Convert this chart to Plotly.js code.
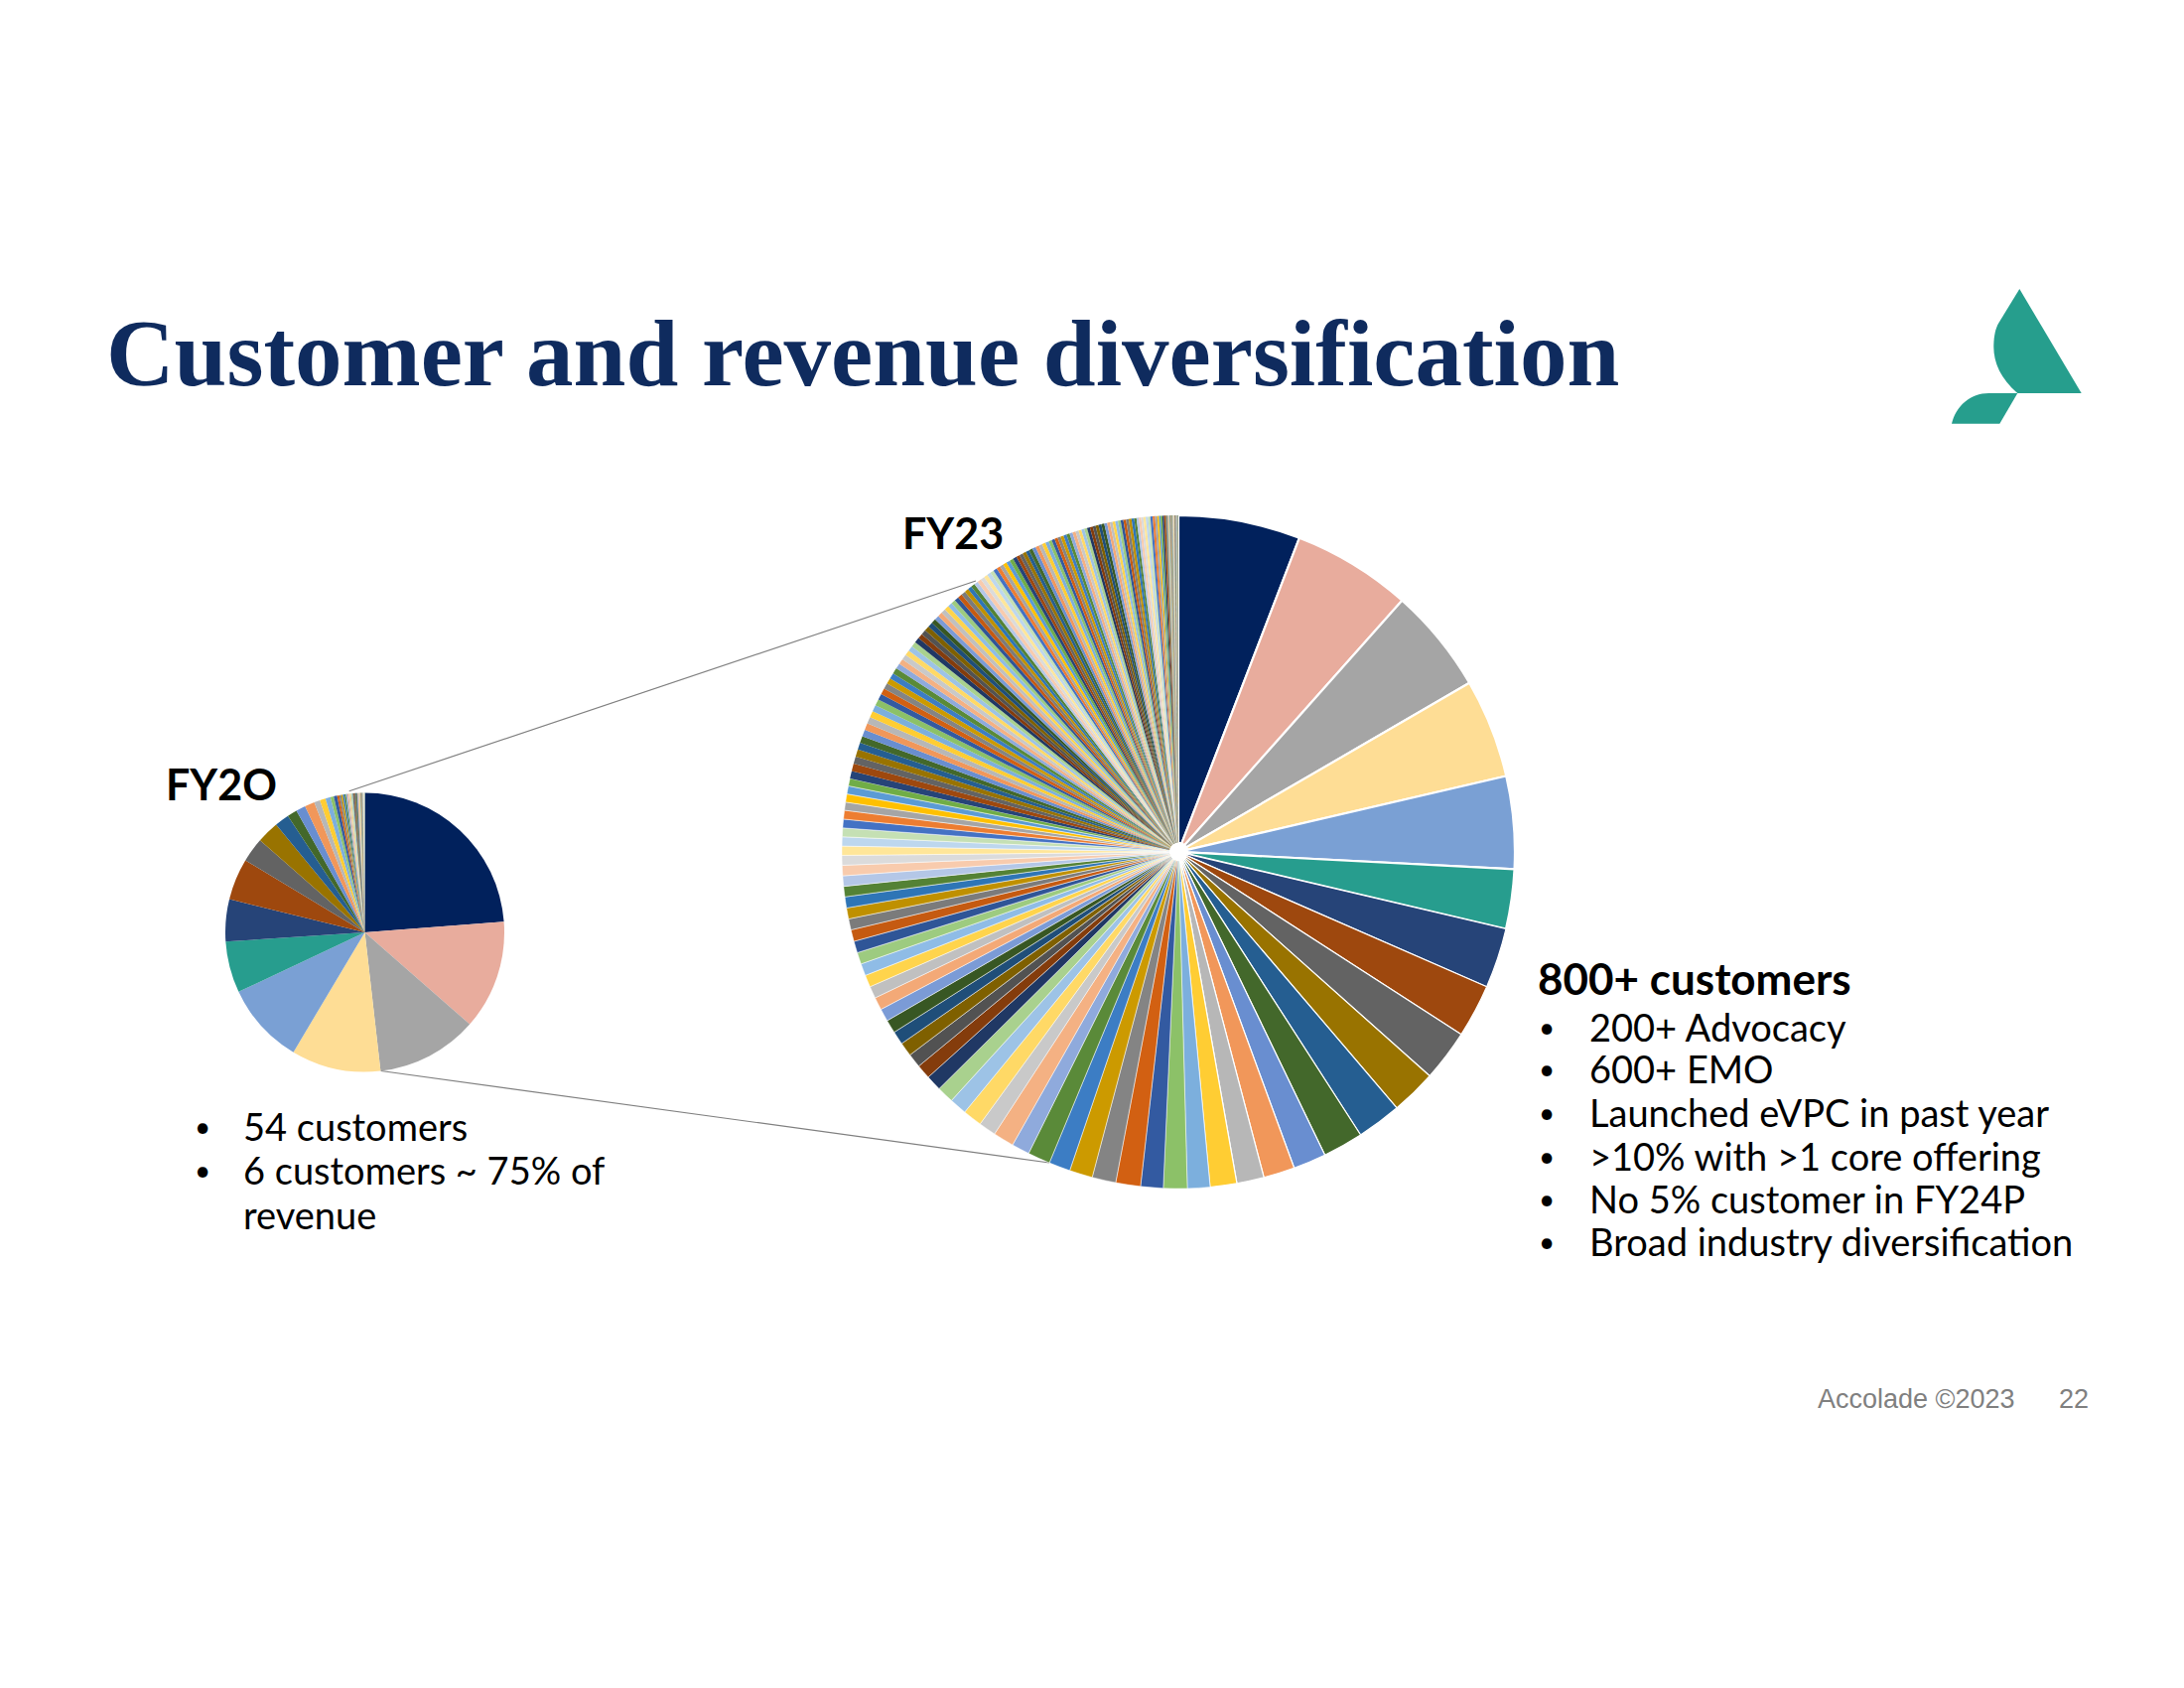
<!DOCTYPE html>
<html>
<head>
<meta charset="utf-8">
<script src="https://cdn.plot.ly/plotly-3.0.1.min.js"></script>
<style>
html,body{margin:0;padding:0;background:#ffffff;}
#chart{width:2200px;height:1700px;}
</style>
</head>
<body>
<div id="chart"></div>
<script>
// ---------------- DATA ----------------
const titleText = "Customer and revenue diversification";

// FY20 revenue share by customer (%), 54 customers, largest first
const fy20Values = [23.78, 12.67, 11.75, 10.36, 9.44, 5.94, 4.89, 4.81, 2.83, 2.56,
  1.67, 1.14, 1.11, 1.14, 0.69, 0.67, 0.58, 0.39, 0.39, 0.25,
  0.22, 0.19, 0.19, 0.17, 0.17, 0.14, 0.14, 0.14, 0.11, 0.11,
  0.08, 0.08, 0.08, 0.08, 0.08, 0.08, 0.08, 0.08, 0.08, 0.08,
  0.04, 0.04, 0.04, 0.04, 0.04, 0.04, 0.04, 0.04, 0.04, 0.04, 0.04, 0.04, 0.04, 0.04];

// FY23 revenue share by customer (%), read slice by slice
const fy23Top = [5.86, 5.72, 5.06, 4.75, 4.44, 2.86, 2.89, 2.56, 2.47, 2.17,
  2.14, 1.94, 1.58, 1.50, 1.31, 1.28, 1.08, 1.14, 1.08, 1.19,
  1.14, 1.11, 1.03, 1.08, 0.86, 1.00, 0.83, 0.92, 0.83, 0.81];
const fy23Mid = [0.75, 0.69, 0.67, 0.67, 0.64, 0.64, 0.61, 0.61, 0.58, 0.58,
  0.58, 0.56, 0.56, 0.56, 0.53, 0.53, 0.53, 0.50, 0.50, 0.50, 0.47,
  0.44, 0.44, 0.42, 0.42, 0.42, 0.39, 0.39, 0.39, 0.36,
  0.36, 0.36, 0.35, 0.35, 0.33, 0.33, 0.33, 0.32, 0.32, 0.31,
  0.31, 0.31, 0.29, 0.29, 0.28, 0.28, 0.28, 0.28, 0.26, 0.26,
  0.26, 0.25, 0.25, 0.25, 0.25, 0.24, 0.24, 0.24, 0.24, 0.22,
  0.22, 0.22, 0.22, 0.22, 0.21, 0.21, 0.21, 0.21, 0.21, 0.19,
  0.19, 0.19, 0.19, 0.19, 0.19];
const fy23Small = [0.18, 0.18, 0.18, 0.18, 0.18, 0.18, 0.18, 0.18, 0.18, 0.18,
  0.17, 0.17, 0.17, 0.17, 0.17, 0.17, 0.17, 0.17, 0.17, 0.17,
  0.15, 0.15, 0.15, 0.15, 0.15, 0.15, 0.15, 0.15, 0.15, 0.15,
  0.14, 0.14, 0.14, 0.14, 0.14, 0.14, 0.14, 0.14, 0.14, 0.14,
  0.13, 0.13, 0.13, 0.13, 0.13, 0.13, 0.13, 0.13, 0.13, 0.13,
  0.11, 0.11, 0.11, 0.11, 0.11, 0.11, 0.11, 0.11, 0.11, 0.11,
  0.08, 0.08, 0.08, 0.08, 0.08];
const fy23Tail = [0.02, 0.02, 0.02, 0.02, 0.02, 0.02, 0.02, 0.02, 0.02, 0.02,
  0.02, 0.02, 0.02, 0.02, 0.02, 0.02, 0.02, 0.02, 0.02, 0.02,
  0.01, 0.01, 0.01, 0.01, 0.01, 0.01, 0.01, 0.01, 0.01, 0.01,
  0.01, 0.01, 0.01, 0.01, 0.01, 0.01, 0.01, 0.01, 0.01, 0.01];

const fy20Label = "FY2O";
const fy23Label = "FY23";
const fy20Bullets = ["54 customers", "6 customers ~ 75% of", "revenue"];
const fy23Header = "800+ customers";
const fy23Bullets = ["200+ Advocacy", "600+ EMO", "Launched eVPC in past year",
  ">10% with >1 core offering", "No 5% customer in FY24P", "Broad industry diversification"];
const footerText = "Accolade ©2023";
const pageNumber = "22";

// ---------------- STYLE ----------------
const W = 2200, H = 1700;
const leadColors = ['#01215C', '#E8AC9D', '#A5A5A5', '#FEDD95', '#7AA0D4', '#279D8E'];
const cycleColors = [
  '#4472C4','#ED7D31','#A5A5A5','#FFC000','#5B9BD5','#70AD47',
  '#264478','#9E480E','#636363','#997300','#255E91','#43682B',
  '#698ED0','#F1975A','#B7B7B7','#FFCD33','#7CAFDD','#8CC168',
  '#335AA1','#D26012','#848484','#CC9A00','#3C7DC4','#5A8A39',
  '#8FAADC','#F4B183','#C9C9C9','#FFD966','#9DC3E6','#A9D18E',
  '#203864','#843C0C','#525252','#7F6000','#1F4E79','#385723',
  '#7B9BD6','#F3A977','#C0C0C0','#FFD44C','#8FBCE6','#9DCB80',
  '#2F5597','#C55A11','#7B7B7B','#BF9000','#2E75B6','#548235',
  '#B4C7E7','#F8CBAD','#DBDBDB','#FFE699','#BDD7EE','#C5E0B4'
];
function colorsFor(n){
  const out=[];
  for(let i=0;i<n;i++) out.push(i<6 ? leadColors[i] : cycleColors[i % cycleColors.length]);
  return out;
}
const fy23Values = fy23Top.concat(fy23Mid, fy23Small, fy23Tail);
const fy23LineW = fy23Values.map((v,i)=> i<6 ? 2.2 : (i<16 ? 1.2 : (i<60 ? 0.5 : 0)));

const sansFont = 'Lato, "Noto Sans", sans-serif';
const textColor = '#000000';

// pie geometry (pixels)
const fy20C = {x:367.5, y:939, r:140.5};
const fy23C = {x:1187, y:858, r:339};
function dom(c){ return {x:[(c.x-c.r)/W,(c.x+c.r)/W], y:[1-(c.y+c.r)/H, 1-(c.y-c.r)/H]}; }

const traces = [
  {type:'scatter', x:[], y:[], hoverinfo:'skip', showlegend:false},
  {type:'pie', values:fy20Values, sort:false, direction:'clockwise', rotation:0,
   domain:dom(fy20C), textinfo:'none', hoverinfo:'none', showlegend:false,
   marker:{colors:colorsFor(fy20Values.length), line:{width:0}}},
  {type:'pie', values:fy23Values, sort:false, direction:'clockwise', rotation:0, hole:0.027,
   domain:dom(fy23C), textinfo:'none', hoverinfo:'none', showlegend:false,
   marker:{colors:colorsFor(fy23Values.length), line:{width:fy23LineW, color:'#ffffff'}}}
];

const annotations = [];
function addText(text, x, y, size, opts){
  annotations.push(Object.assign({
    text:text, x:x, y:y, xref:'x', yref:'y', xanchor:'left', yanchor:'middle',
    showarrow:false, font:{family:sansFont, size:size, color:textColor}
  }, opts||{}));
}
// title
addText(titleText, 105, 356, 95, {font:{family:'"Liberation Serif", "DejaVu Serif", serif', size:95, color:'#0F2B5E', weight:'bold'}});
// pie labels
addText('<b>'+fy20Label+'</b>', 165, 789, 43);
addText('<b>'+fy23Label+'</b>', 907, 536, 43);
// FY20 bullets
const fy20Ys = [1134, 1178, 1223];
fy20Bullets.forEach((t,i)=>{
  if(i<2) addText('•', 194, fy20Ys[i], 28);
  addText(t, 243, fy20Ys[i], 38);
});
// FY23 text
addText('<b>'+fy23Header+'</b>', 1547, 985, 44);
const fy23Ys = [1034, 1076, 1120, 1164, 1207, 1250];
fy23Bullets.forEach((t,i)=>{
  addText('•', 1548, fy23Ys[i], 28);
  addText(t, 1599, fy23Ys[i], 38);
});
// footer
addText(footerText, 1829, 1409, 27, {font:{family:'"Liberation Sans", Arial, sans-serif', size:27, color:'#808080'}});
addText(pageNumber, 2072, 1409, 27, {font:{family:'"Liberation Sans", Arial, sans-serif', size:27, color:'#808080'}});

const shapes = [
  {type:'line', xref:'x', yref:'y', x0:351.7, y0:796.7, x1:983, y1:585, line:{color:'#808080', width:1.2}, layer:'below'},
  {type:'line', xref:'x', yref:'y', x0:383.7, y0:1078.5, x1:1057, y1:1171, line:{color:'#808080', width:1.2}, layer:'below'},
  // logo
  {type:'path', xref:'x', yref:'y', fillcolor:'#269E8D', line:{width:0},
   path:'M 2034.3 291 L 2096.7 396 L 2032.3 396 C 2015 381, 2008 365, 2008.3 348 C 2008.5 338, 2010 331, 2013.5 325 Z'},
  {type:'path', xref:'x', yref:'y', fillcolor:'#269E8D', line:{width:0},
   path:'M 2032.3 396 L 2014.3 426.7 L 1966 426.7 C 1970 409, 1985 396, 2003.3 396 Z'}
];

const layout = {
  width:W, height:H, margin:{l:0,r:0,t:0,b:0,pad:0},
  paper_bgcolor:'#ffffff', plot_bgcolor:'rgba(0,0,0,0)',
  showlegend:false,
  xaxis:{range:[0,W], visible:false, fixedrange:true},
  yaxis:{range:[H,0], visible:false, fixedrange:true},
  annotations:annotations, shapes:shapes
};
Plotly.newPlot('chart', traces, layout, {staticPlot:true, displayModeBar:false});
</script>
</body>
</html>
